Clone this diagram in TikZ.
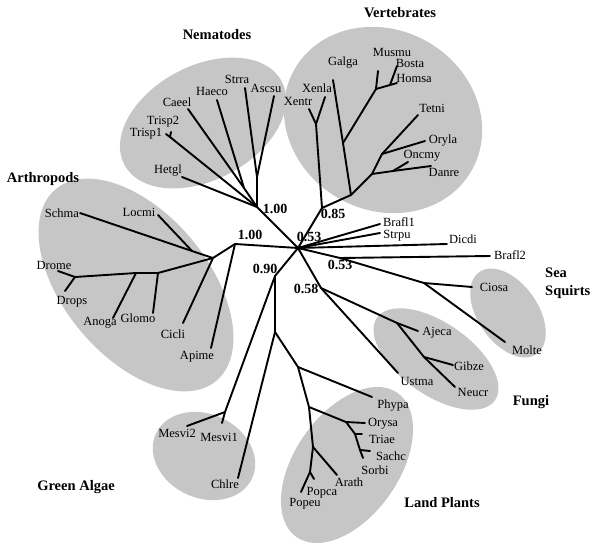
\documentclass[tikz,border=0pt]{standalone}
\usepackage{fontspec}
\setmainfont{Liberation Serif}
\usepackage{tikz}

\tikzset{
  branch/.style={line width=1.9pt, line cap=round, line join=round},
  taxon/.style={inner sep=0pt, font=\fontsize{12.5}{14}\selectfont},
  support/.style={inner sep=0pt, font=\fontsize{14}{16}\selectfont\bfseries},
  group/.style={inner sep=0pt, font=\fontsize{14.5}{18}\selectfont\bfseries, align=left},
  cladefill/.style={fill=gray!45}
}

\begin{document}
\begin{tikzpicture}[x=1pt,y=-1pt]
  \useasboundingbox (0,0) rectangle (600,546);

  % shaded clades: centre x/centre y/radii/angle
  \foreach \cx/\cy/\a/\b/\r in {203/123/89/57/28, 383/120/102/90/-30, 136/285/125/72/-50,
                                 508/313/50/30/-55, 436/359/72/36/-35, 347/465/88/52/55,
                                 204/456/53/42/-25} {
    \fill[cladefill, rotate around={\r:(\cx,\cy)}] (\cx,\cy) ellipse [x radius=\a pt, y radius=\b pt];
  }

  % inner nodes and tips
  \foreach \n/\x/\y in {r/298/248,
      nNem/257/207, tHetgl/182/177, nTri/170/137, tTp1/166/134, tTp2/171/132,
      nHae/244/188, tCae/188/109, tHae/217/100, nAsc/257/177, tStr/245/88, tAsc/274/96,
      nVer/322/208, nXen/316/124, tXentr/309/109, tXenla/325/97, nV2/351/195,
      nGal/343/143, tGal/333/80, nMam/376/89, tMus/378/71, nBH/390/85, tBos/397/66, tHom/397/83,
      nFish/372/174, nTO/382/154, tTet/418/115, tOry/425/141, nOD/393/171, tDan/431/166, tOnc/408/162,
      tBr1/380/224, tStp/380/233, tDic/447/244, nSq/340/258, tBr2/490/256,
      nCM/424/283, tCio/472/287, tMol/505/342,
      nFun/321/288, tUst/398/373, nAj/397/323, tAje/418/331, nGN/424/357, tGib/453/365, tNeu/455/387,
      nAlg/275/276, nMes/225/412, tMs2/187/426, tMs1/222/423, nCh/275/332, tChl/238/478,
      nPl/298/367, tPhy/372/397, nP2/309/407, nGr/346/422, tOrs/365/423,
      nTr/355/434, tTri/362/434, nSa/360/450, tSac/370/451, tSor/363/458,
      nP3/313/447, tAra/337/475, nPop/310/472, tPca/314/479, tPeu/301/492,
      nArt/235/244, tApi/211/348, nA2/213/258, tCic/183/323, nSL/192/251, tSch/80/213, tLoc/158/215,
      nGl/158/273, tGlo/153/313, nAn/136/273, tAno/113/318, nDr/75/277, tDro/58/271, tDrp/65/291} {
    \coordinate (\n) at (\x,\y);
  }

  % branches
  \foreach \a/\b in {r/nNem, nNem/tHetgl, nNem/nTri, nTri/tTp1, nTri/tTp2, nNem/nHae, nHae/tCae,
      nHae/tHae, nNem/nAsc, nAsc/tStr, nAsc/tAsc,
      r/nVer, nVer/nXen, nXen/tXentr, nXen/tXenla, nVer/nV2, nV2/nGal, nGal/tGal, nGal/nMam,
      nMam/tMus, nMam/nBH, nBH/tBos, nBH/tHom, nV2/nFish, nFish/nTO, nTO/tTet, nTO/tOry,
      nFish/nOD, nOD/tDan, nOD/tOnc,
      r/tBr1, r/tStp, r/tDic, r/nSq, nSq/tBr2, nSq/nCM, nCM/tCio, nCM/tMol,
      r/nFun, nFun/tUst, nFun/nAj, nAj/tAje, nAj/nGN, nGN/tGib, nGN/tNeu,
      r/nAlg, nAlg/nMes, nMes/tMs2, nMes/tMs1, nAlg/nCh, nCh/tChl, nCh/nPl, nPl/tPhy, nPl/nP2,
      nP2/nGr, nGr/tOrs, nGr/nTr, nTr/tTri, nTr/nSa, nSa/tSac, nSa/tSor,
      nP2/nP3, nP3/tAra, nP3/nPop, nPop/tPca, nPop/tPeu,
      r/nArt, nArt/tApi, nArt/nA2, nA2/tCic, nA2/nSL, nSL/tSch, nSL/tLoc,
      nA2/nGl, nGl/tGlo, nGl/nAn, nAn/tAno, nAn/nDr, nDr/tDro, nDr/tDrp} {
    \draw[branch] (\a) -- (\b);
  }

  % taxon names
  \foreach \n/\x/\y in {Hetgl/168/171, Trisp1/146/134, Trisp2/163/122, Caeel/177/102, Haeco/212/91,
      Strra/237/79, Ascsu/266/88, Xentr/298/101, Xenla/317/88, Galga/343/63, Musmu/392/52,
      Bosta/410/63, Homsa/414/78, Tetni/432/108, Oryla/443/141, Oncmy/422/156, Danre/444/172,
      Brafl1/399/222, Strpu/397/236, Dicdi/463/239, Brafl2/510/255, Ciosa/494/287, Molte/527/350,
      Ajeca/437/333, Gibze/469/366, Neucr/473/392, Ustma/417/381,
      Phypa/393/406, Orysa/383/424, Triae/382/439, Sachc/391/456, Sorbi/375/470, Arath/349/482,
      Popca/322/493, Popeu/305/504, Mesvi2/177/433, Mesvi1/219/437, Chlre/225/484,
      Schma/62/213, Locmi/139/212, Drome/54/265, Drops/72/302, Anoga/100/323, Glomo/138/318,
      Cicli/173/334, Apime/197/357} {
    \node[taxon] (l\n) at (\x,\y) {\n};
  }

  % support values
  \node[support] (sNem) at (275,209) {1.00};
  \node[support] (sVer) at (333,214) {0.85};
  \node[support] (sRoot) at (309,237) {0.53};
  \node[support] (sArt) at (250,235) {1.00};
  \node[support] (sAlg) at (265,269) {0.90};
  \node[support] (sSq) at (340,265) {0.53};
  \node[support] (sFun) at (306,289) {0.58};

  % group names
  \node[group] (gNem) at (217,35) {Nematodes};
  \node[group] (gVer) at (400,13) {Vertebrates};
  \node[group] (gArt) at (43,179) {Arthropods};
  \node[group, anchor=west] (gSq) at (545,283) {Sea\\Squirts};
  \node[group] (gFun) at (531,402) {Fungi};
  \node[group] (gPl) at (442,503) {Land Plants};
  \node[group] (gAlg) at (76,487) {Green Algae};
\end{tikzpicture}
\end{document}
